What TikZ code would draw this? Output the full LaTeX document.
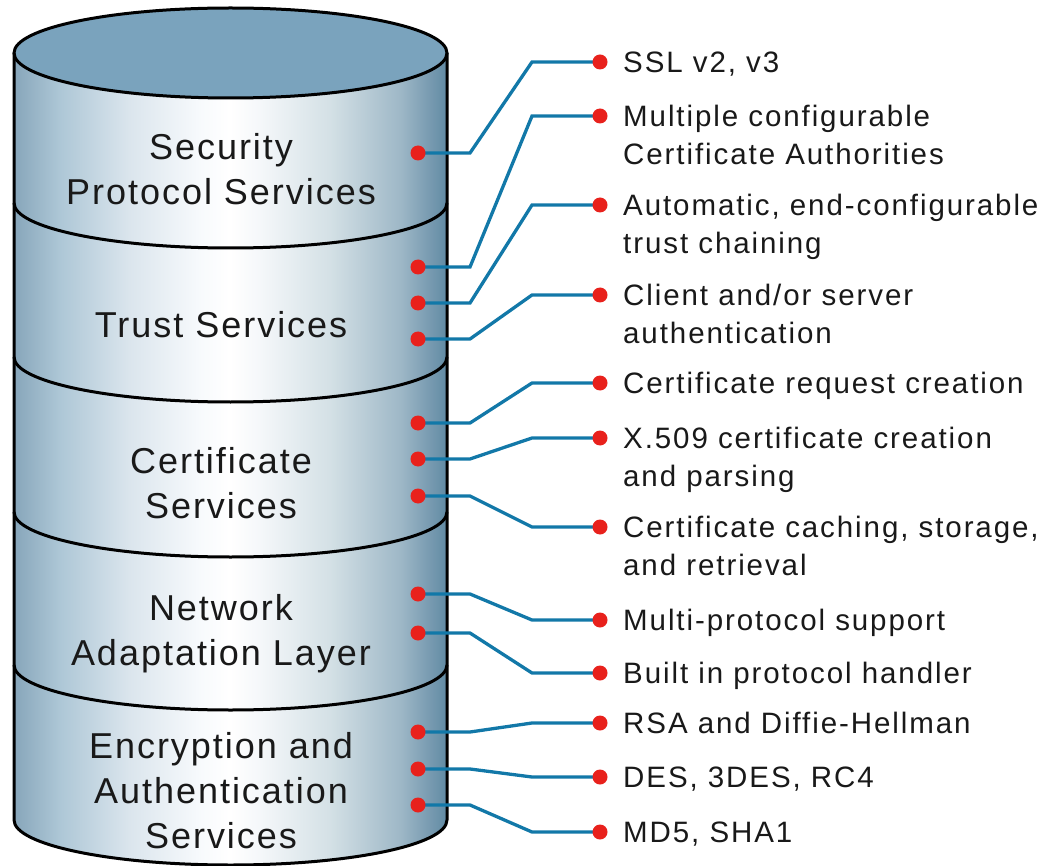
\documentclass[tikz,border=0pt]{standalone}
\usepackage{fontspec}
\setmainfont{Liberation Sans}
\newfontfamily\lblfont[LetterSpace=6.5]{Liberation Sans}
\newfontfamily\cylfont[LetterSpace=5.5]{Liberation Sans}
\usetikzlibrary{calc}

% colours
\definecolor{wire}{rgb}{0.07,0.47,0.66}
\definecolor{pin}{rgb}{0.91,0.13,0.11}
\definecolor{lidtop}{rgb}{0.48,0.64,0.74}
\definecolor{ink}{rgb}{0.10,0.10,0.10}
\definecolor{c1}{rgb}{0.53,0.65,0.73}
\definecolor{c2}{rgb}{0.68,0.78,0.84}
\definecolor{c3}{rgb}{0.86,0.90,0.93}
\definecolor{c4}{rgb}{0.97,0.98,0.99}
\definecolor{c5}{rgb}{1,1,1}
\definecolor{c6}{rgb}{0.96,0.97,0.98}
\definecolor{c7}{rgb}{0.83,0.88,0.90}
\definecolor{c8}{rgb}{0.62,0.72,0.78}
\definecolor{c9}{rgb}{0.38,0.54,0.64}

% metallic side of the cylinder
\pgfdeclarehorizontalshading{cylside}{100bp}{%
  color(0bp)=(c1); color(25bp)=(c1); color(30.3bp)=(c2); color(38.4bp)=(c3);
  color(46.5bp)=(c4); color(49.9bp)=(c5); color(53.4bp)=(c6); color(61.5bp)=(c7);
  color(69.6bp)=(c8); color(75bp)=(c9); color(100bp)=(c9)}

\pgfdeclarelayer{cyl}
\pgfdeclarelayer{wires}
\pgfsetlayers{cyl,wires,main}

\tikzset{
  pindot/.style={circle,fill=pin,draw=none,minimum size=15pt,inner sep=0pt},
  conn/.style={draw=wire,line width=3.3pt,line join=miter},
  item/.style={anchor=west,inner sep=0pt,align=left,text=ink,
    font=\lblfont\fontsize{29.5}{38}\selectfont},
  layer/.style={anchor=center,inner sep=0pt,align=center,text=ink,
    font=\cylfont\fontsize{36}{45}\selectfont},
  outline/.style={draw=black,line width=3pt},
}

\begin{document}
\begin{tikzpicture}[x=1pt,y=1pt]
\useasboundingbox (0,0) rectangle (1046,-866);

% ---------- cylinder ----------
\begin{pgfonlayer}{cyl}
  % side surface
  \shade[shading=cylside] (14,-53) -- (14,-820)
     arc[start angle=180,end angle=360,x radius=216.5,y radius=45]
     -- (447,-53) -- cycle;
  % lid
  \fill[lidtop] (230.5,-53) ellipse[x radius=216.5,y radius=45];
  % segment dividers
  \foreach \cy in {203,357,512,665}
    \draw[outline] (14,-\cy) arc[start angle=180,end angle=360,x radius=216.5,y radius=45];
  % contour
  \draw[outline,line join=round] (14,-53) -- (14,-820)
     arc[start angle=180,end angle=360,x radius=216.5,y radius=45] -- (447,-53);
  \draw[outline] (230.5,-53) ellipse[x radius=216.5,y radius=45];
\end{pgfonlayer}

% ---------- layer names ----------
\node[layer] (sps) at (221,-173) {\strut Security\\\strut Protocol Services};
\node[layer] (trs) at (221,-329) {\strut Trust Services};
\node[layer] (cts) at (221,-487) {\strut Certificate\\\strut Services};
\node[layer] (nal) at (221,-634) {\strut Network\\\strut Adaptation Layer};
\node[layer] (eas) at (221,-794) {\strut Encryption and\\\strut Authentication\\\strut Services};

% ---------- pins on the cylinder ----------
\foreach \n/\y in {1/153,2/267,3/303,4/339,5/423,6/459,7/496,8/594,9/633,10/732,11/769,12/805}
  \node[pindot] (L\n) at (418,-\y) {};

% ---------- pins at the feature list ----------
\foreach \n/\y in {1/62,2/116,3/205,4/295,5/383,6/438,7/527,8/620,9/673,10/723,11/777,12/832}
  \node[pindot] (R\n) at (600,-\y) {};

% ---------- connectors ----------
\begin{pgfonlayer}{wires}
  \foreach \n in {1,...,12}
    \draw[conn] (L\n.center) -- ($(L\n.center)+(52,0)$)
       -- ($(R\n.center)+(-68,0)$) -- (R\n.center);
\end{pgfonlayer}

% ---------- feature list ----------
\node[item] (f1)  at (623,-64.5)  {\strut SSL v2, v3};
\node[item] (f2)  at (623,-137.5) {\strut Multiple configurable\\\strut Certificate Authorities};
\node[item] (f3)  at (623,-226.5) {\strut Automatic, end-configurable\\\strut trust chaining};
\node[item] (f4)  at (623,-316.5) {\strut Client and/or server\\\strut authentication};
\node[item] (f5)  at (623,-385.5) {\strut Certificate request creation};
\node[item] (f6)  at (623,-459.5) {\strut X.509 certificate creation\\\strut and parsing};
\node[item] (f7)  at (623,-548.5) {\strut Certificate caching, storage,\\\strut and retrieval};
\node[item] (f8)  at (623,-622.5) {\strut Multi-protocol support};
\node[item] (f9)  at (623,-675.5) {\strut Built in protocol handler};
\node[item] (f10) at (623,-725.5) {\strut RSA and Diffie-Hellman};
\node[item] (f11) at (623,-779.5) {\strut DES, 3DES, RC4};
\node[item] (f12) at (623,-834.5) {\strut MD5, SHA1};
\end{tikzpicture}
\end{document}
